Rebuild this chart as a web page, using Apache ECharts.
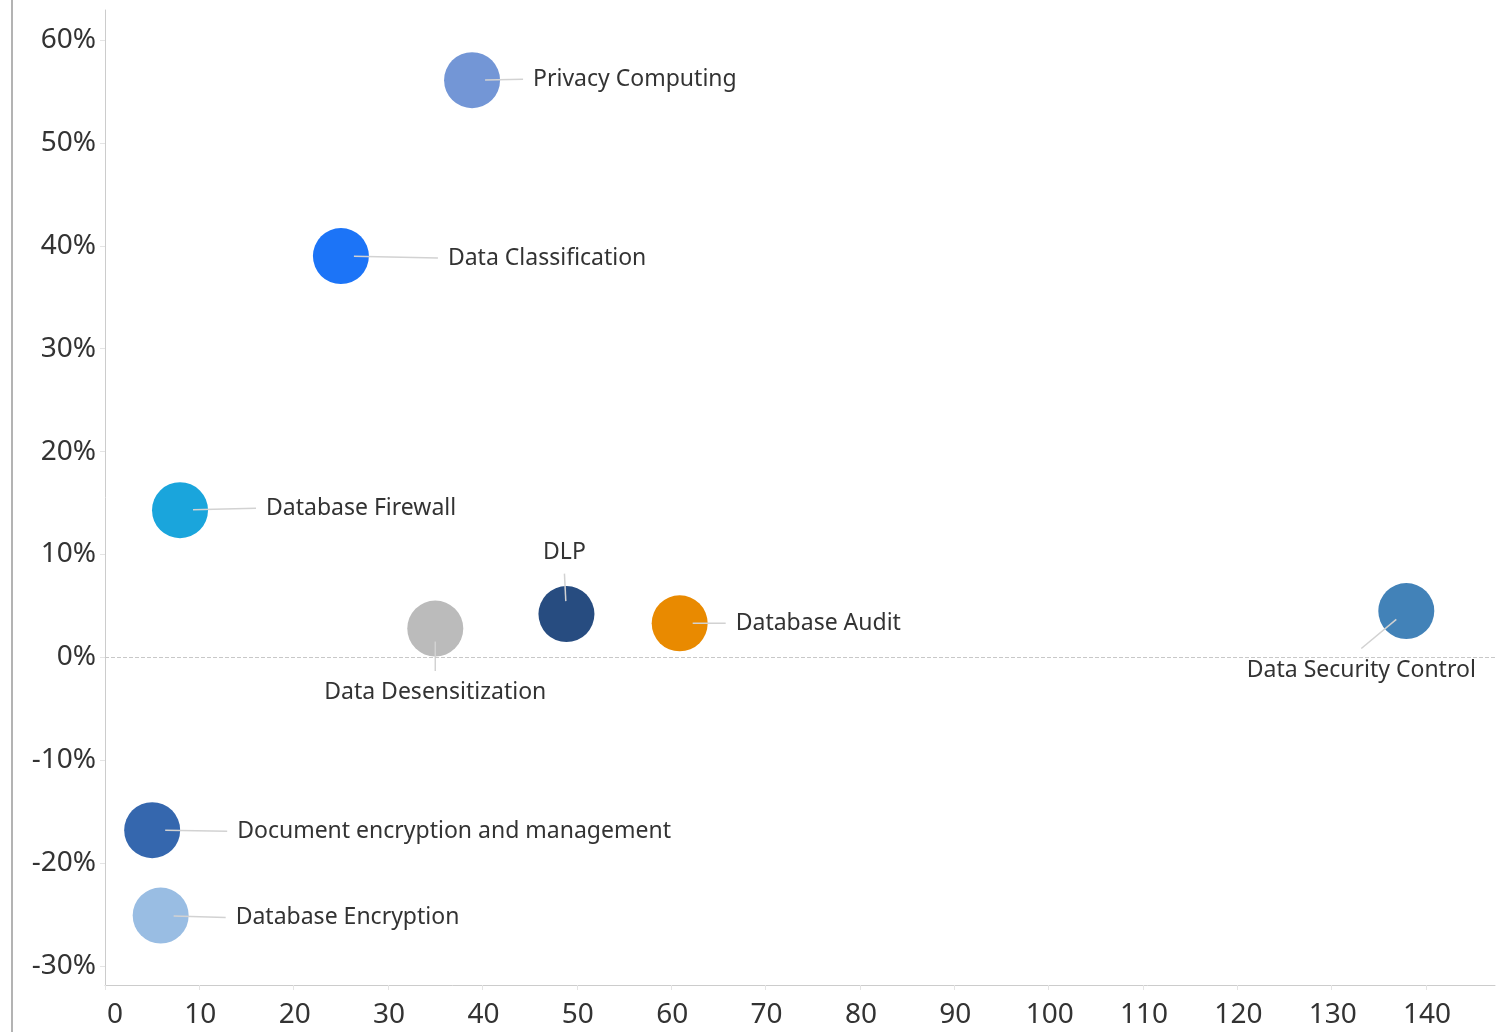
<!DOCTYPE html>
<html>
<head>
<meta charset="utf-8">
<title>Data security segments</title>
<script src="https://cdn.jsdelivr.net/npm/echarts@6/dist/echarts.min.js"></script>
<style>
  html, body { margin: 0; padding: 0; background: #fff; }
  #chart { width: 1496px; height: 1032px; }
</style>
</head>
<body>
<div id="chart"></div>
<script>
// chart data
var names = ['Privacy Computing', 'Data Classification', 'Database Firewall', 'DLP',
    'Data Desensitization', 'Database Audit', 'Data Security Control',
    'Document encryption and management', 'Database Encryption'];
var xValues = [38.9, 25.0, 7.95, 48.9, 35.0, 60.9, 137.9, 5.0, 5.9];
var yValues = [0.561, 0.390, 0.143, 0.042, 0.028, 0.033, 0.045, -0.168, -0.251];
var colors = ['#7396d6', '#1c74f7', '#1aa5dc', '#274c80', '#bbbbbb', '#e98a00', '#4282b8', '#3567ae', '#99bde3'];
var xTicks = [0, 10, 20, 30, 40, 50, 60, 70, 80, 90, 100, 110, 120, 130, 140];
var yTicks = [-0.3, -0.2, -0.1, 0, 0.1, 0.2, 0.3, 0.4, 0.5, 0.6];

// where each label sits, relative to its bubble centre: [dx, dy, align]
var labelOffsets = [
    [61, -1, 'left'], [107, 2, 'left'], [86, -2, 'left'], [-2, -62, 'center'],
    [0, 64, 'center'], [56, 0, 'left'], [-45, 59, 'center'], [85, 1, 'left'], [75, 2, 'left']
];
var labelPad = 10;

var font = '"Noto Sans", "Open Sans", sans-serif';

var bubbles = [], anchors = [];
for (var i = 0; i < names.length; i++) {
    bubbles.push({ name: names[i], value: [xValues[i], yValues[i]], itemStyle: { color: colors[i] } });
    anchors.push({ name: names[i], value: [xValues[i], yValues[i]] });
}

var myChart = echarts.init(document.getElementById('chart'));

myChart.setOption({
    animation: false,
    textStyle: { fontFamily: font },
    graphic: [{
        type: 'rect', left: 11, top: 0, z: 100,
        shape: { width: 2, height: 1032 },
        style: { fill: '#b3b3b3' }
    }],
    grid: { left: 105, right: 1, top: 10, bottom: 47, containLabel: false },
    xAxis: {
        type: 'value', min: 0, max: 147.3,
        axisLine: { show: true, onZero: false, lineStyle: { color: '#cccccc', width: 1 } },
        axisTick: { show: true, length: 5, lineStyle: { color: '#e4e4e4' }, customValues: xTicks },
        axisLabel: {
            customValues: xTicks, fontSize: 28, color: '#333', margin: 16,
            fontFamily: font, alignMinLabel: 'left', padding: [0, 0, 0, 2]
        },
        splitLine: { show: false }
    },
    yAxis: {
        type: 'value', min: -0.3185, max: 0.6292,
        axisLine: { show: true, lineStyle: { color: '#cccccc', width: 1 } },
        axisTick: { show: true, length: 5, lineStyle: { color: '#e4e4e4' }, customValues: yTicks },
        axisLabel: {
            customValues: yTicks, fontSize: 28, color: '#333', margin: 9, fontFamily: font,
            padding: [4, 0, 0, 0],
            formatter: function (v) { return Math.round(v * 100) + '%'; }
        },
        splitLine: { show: false }
    },
    series: [{
        type: 'scatter',
        symbolSize: 56,
        data: bubbles,
        itemStyle: { opacity: 1 },
        emphasis: { disabled: true },
        markLine: {
            silent: true, symbol: 'none',
            label: { show: false },
            lineStyle: { type: [4, 2], color: '#c8c8c8', width: 1.2 },
            data: [{ yAxis: 0 }]
        }
    }, {
        // small invisible anchors so the leader lines start inside the bubbles
        type: 'scatter',
        symbolSize: 26,
        z: 3,
        data: anchors,
        itemStyle: { color: 'rgba(0,0,0,0)', opacity: 1 },
        emphasis: { disabled: true },
        label: {
            show: true, position: 'inside',
            formatter: '{b}', fontSize: 23, color: '#333', fontFamily: font,
            padding: labelPad, backgroundColor: 'rgba(255,255,255,0)'
        },
        labelLine: { show: true, lineStyle: { color: '#d2d2d2', width: 1.5 } },
        labelLayout: function (params) {
            var o = labelOffsets[params.dataIndex];
            return {
                dx: o[2] === 'left' ? o[0] - labelPad : o[0],
                dy: o[1],
                align: o[2]
            };
        }
    }]
});
</script>
</body>
</html>
